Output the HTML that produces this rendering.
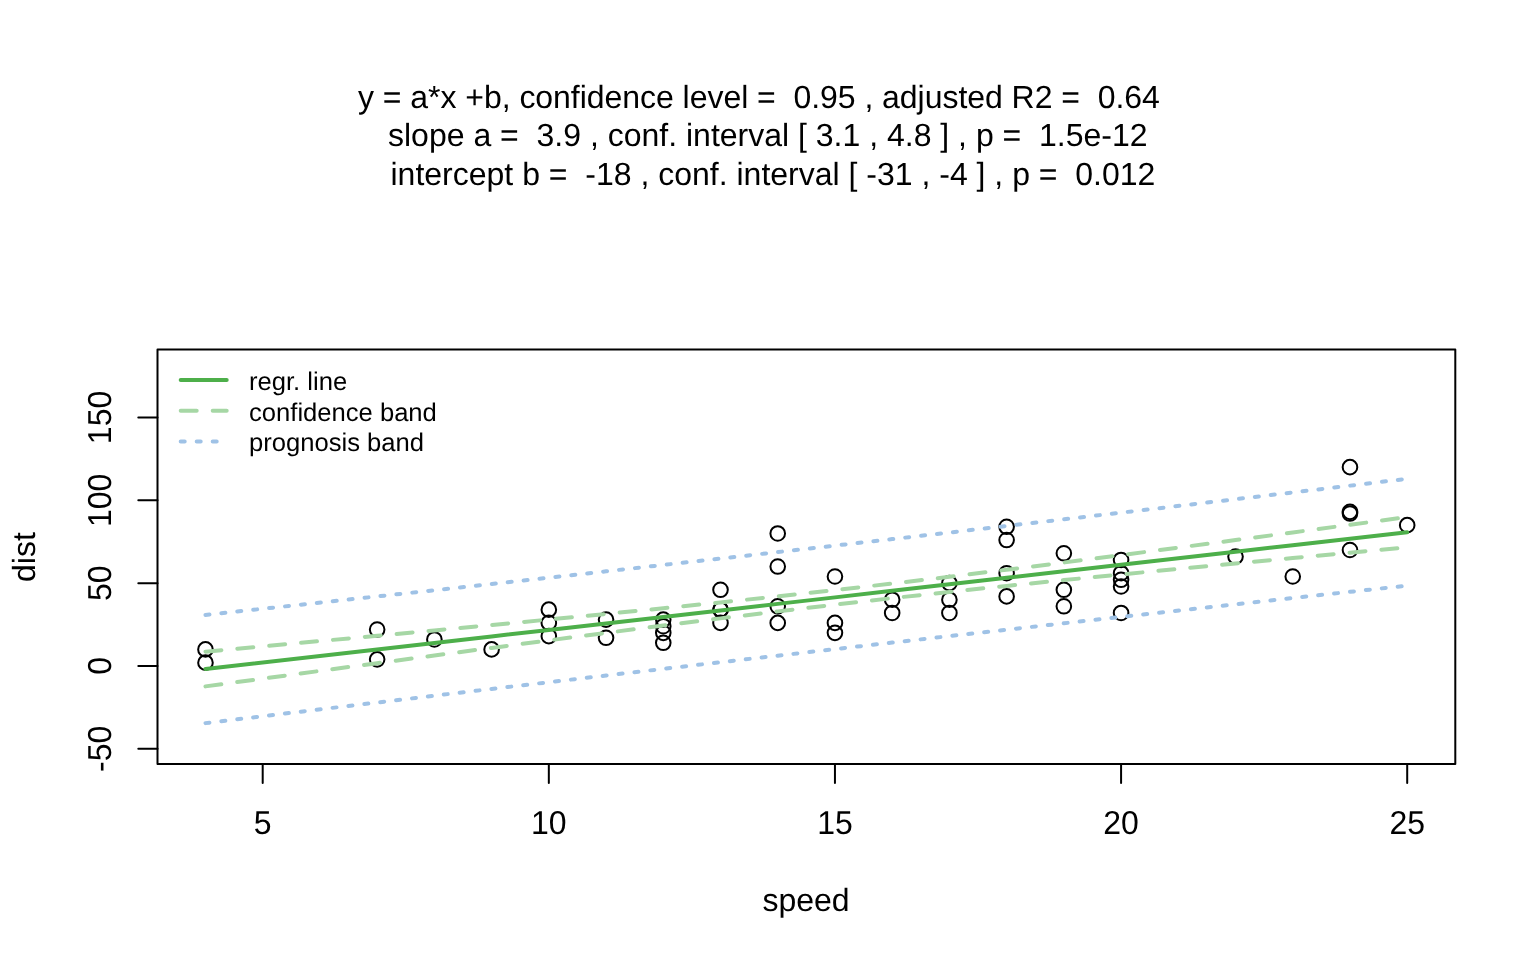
<!DOCTYPE html>
<html><head><meta charset="utf-8"><style>
html,body{margin:0;padding:0;background:#fff;}
svg{display:block;will-change:transform;}
text{font-family:"Liberation Sans",sans-serif;fill:#000;text-rendering:geometricPrecision;}
</style></head><body>
<svg width="1536" height="960" viewBox="0 0 1536 960">
<rect x="0" y="0" width="1536" height="960" fill="#fff"/>
<g font-size="32">
<text x="358" y="108.2" textLength="801.8" lengthAdjust="spacing" xml:space="preserve">y = a*x +b, confidence level =  0.95 , adjusted R2 =  0.64</text>
<text x="388" y="146.2" xml:space="preserve">slope a =  3.9 , conf. interval [ 3.1 , 4.8 ] , p =  1.5e-12</text>
<text x="390.5" y="185.2" xml:space="preserve">intercept b =  -18 , conf. interval [ -31 , -4 ] , p =  0.012</text>
</g>
<g fill="none" stroke="#000" stroke-width="2">
<circle cx="205.47" cy="662.65" r="7.3"/>
<circle cx="205.47" cy="649.40" r="7.3"/>
<circle cx="377.15" cy="659.34" r="7.3"/>
<circle cx="377.15" cy="629.52" r="7.3"/>
<circle cx="434.38" cy="639.46" r="7.3"/>
<circle cx="491.60" cy="649.40" r="7.3"/>
<circle cx="548.83" cy="636.14" r="7.3"/>
<circle cx="548.83" cy="622.89" r="7.3"/>
<circle cx="548.83" cy="609.64" r="7.3"/>
<circle cx="606.05" cy="637.80" r="7.3"/>
<circle cx="606.05" cy="619.58" r="7.3"/>
<circle cx="663.27" cy="642.77" r="7.3"/>
<circle cx="663.27" cy="632.83" r="7.3"/>
<circle cx="663.27" cy="626.20" r="7.3"/>
<circle cx="663.27" cy="619.58" r="7.3"/>
<circle cx="720.50" cy="622.89" r="7.3"/>
<circle cx="720.50" cy="609.64" r="7.3"/>
<circle cx="720.50" cy="609.64" r="7.3"/>
<circle cx="720.50" cy="589.76" r="7.3"/>
<circle cx="777.72" cy="622.89" r="7.3"/>
<circle cx="777.72" cy="606.32" r="7.3"/>
<circle cx="777.72" cy="566.56" r="7.3"/>
<circle cx="777.72" cy="533.43" r="7.3"/>
<circle cx="834.95" cy="632.83" r="7.3"/>
<circle cx="834.95" cy="622.89" r="7.3"/>
<circle cx="834.95" cy="576.50" r="7.3"/>
<circle cx="892.17" cy="612.95" r="7.3"/>
<circle cx="892.17" cy="599.70" r="7.3"/>
<circle cx="949.40" cy="612.95" r="7.3"/>
<circle cx="949.40" cy="599.70" r="7.3"/>
<circle cx="949.40" cy="583.13" r="7.3"/>
<circle cx="1006.62" cy="596.38" r="7.3"/>
<circle cx="1006.62" cy="573.19" r="7.3"/>
<circle cx="1006.62" cy="540.06" r="7.3"/>
<circle cx="1006.62" cy="526.80" r="7.3"/>
<circle cx="1063.85" cy="606.32" r="7.3"/>
<circle cx="1063.85" cy="589.76" r="7.3"/>
<circle cx="1063.85" cy="553.31" r="7.3"/>
<circle cx="1121.08" cy="612.95" r="7.3"/>
<circle cx="1121.08" cy="586.44" r="7.3"/>
<circle cx="1121.08" cy="579.82" r="7.3"/>
<circle cx="1121.08" cy="573.19" r="7.3"/>
<circle cx="1121.08" cy="559.94" r="7.3"/>
<circle cx="1235.53" cy="556.62" r="7.3"/>
<circle cx="1292.75" cy="576.50" r="7.3"/>
<circle cx="1349.98" cy="550.00" r="7.3"/>
<circle cx="1349.98" cy="513.55" r="7.3"/>
<circle cx="1349.98" cy="511.89" r="7.3"/>
<circle cx="1349.98" cy="467.16" r="7.3"/>
<circle cx="1407.20" cy="525.15" r="7.3"/>
</g>
<g fill="none" stroke-width="4" stroke-linecap="round" stroke-linejoin="round">
<polyline stroke="#a6d7a5" stroke-dasharray="16 16" points="205.47,686.39 205.47,686.39 377.15,663.18 377.15,663.18 434.38,655.52 491.60,647.90 548.83,640.35 548.83,640.35 548.83,640.35 606.05,632.89 606.05,632.89 663.27,625.55 663.27,625.55 663.27,625.55 663.27,625.55 720.50,618.37 720.50,618.37 720.50,618.37 720.50,618.37 777.72,611.38 777.72,611.38 777.72,611.38 777.72,611.38 834.95,604.63 834.95,604.63 834.95,604.63 892.17,598.14 892.17,598.14 949.40,591.91 949.40,591.91 949.40,591.91 1006.62,585.91 1006.62,585.91 1006.62,585.91 1006.62,585.91 1063.85,580.10 1063.85,580.10 1063.85,580.10 1121.08,574.44 1121.08,574.44 1121.08,574.44 1121.08,574.44 1121.08,574.44 1235.53,563.42 1292.75,558.02 1349.98,552.67 1349.98,552.67 1349.98,552.67 1349.98,552.67 1407.20,547.35"/>
<polyline stroke="#a6d7a5" stroke-dasharray="16 16" points="205.47,651.67 205.47,651.67 377.15,635.79 377.15,635.79 434.38,630.42 491.60,625.01 548.83,619.53 548.83,619.53 548.83,619.53 606.05,613.96 606.05,613.96 663.27,608.27 663.27,608.27 663.27,608.27 663.27,608.27 720.50,602.43 720.50,602.43 720.50,602.43 720.50,602.43 777.72,596.38 777.72,596.38 777.72,596.38 777.72,596.38 834.95,590.10 834.95,590.10 834.95,590.10 892.17,583.56 892.17,583.56 949.40,576.76 949.40,576.76 949.40,576.76 1006.62,569.73 1006.62,569.73 1006.62,569.73 1006.62,569.73 1063.85,562.51 1063.85,562.51 1063.85,562.51 1121.08,555.15 1121.08,555.15 1121.08,555.15 1121.08,555.15 1121.08,555.15 1235.53,540.10 1292.75,532.47 1349.98,524.80 1349.98,524.80 1349.98,524.80 1349.98,524.80 1407.20,517.08"/>
<polyline stroke="#9fc2e6" stroke-dasharray="4 12" points="205.47,723.12 205.47,723.12 377.15,702.51 377.15,702.51 434.38,695.71 491.60,688.95 548.83,682.22 548.83,682.22 548.83,682.22 606.05,675.52 606.05,675.52 663.27,668.86 663.27,668.86 663.27,668.86 663.27,668.86 720.50,662.24 720.50,662.24 720.50,662.24 720.50,662.24 777.72,655.66 777.72,655.66 777.72,655.66 777.72,655.66 834.95,649.11 834.95,649.11 834.95,649.11 892.17,642.60 892.17,642.60 949.40,636.12 949.40,636.12 949.40,636.12 1006.62,629.69 1006.62,629.69 1006.62,629.69 1006.62,629.69 1063.85,623.29 1063.85,623.29 1063.85,623.29 1121.08,616.92 1121.08,616.92 1121.08,616.92 1121.08,616.92 1121.08,616.92 1235.53,604.30 1292.75,598.05 1349.98,591.82 1349.98,591.82 1349.98,591.82 1349.98,591.82 1407.20,585.64"/>
<polyline stroke="#9fc2e6" stroke-dasharray="4 12" points="205.47,614.94 205.47,614.94 377.15,596.45 377.15,596.45 434.38,590.23 491.60,583.96 548.83,577.66 548.83,577.66 548.83,577.66 606.05,571.33 606.05,571.33 663.27,564.96 663.27,564.96 663.27,564.96 663.27,564.96 720.50,558.55 720.50,558.55 720.50,558.55 720.50,558.55 777.72,552.11 777.72,552.11 777.72,552.11 777.72,552.11 834.95,545.62 834.95,545.62 834.95,545.62 892.17,539.11 892.17,539.11 949.40,532.55 949.40,532.55 949.40,532.55 1006.62,525.96 1006.62,525.96 1006.62,525.96 1006.62,525.96 1063.85,519.33 1063.85,519.33 1063.85,519.33 1121.08,512.66 1121.08,512.66 1121.08,512.66 1121.08,512.66 1121.08,512.66 1235.53,499.22 1292.75,492.45 1349.98,485.64 1349.98,485.64 1349.98,485.64 1349.98,485.64 1407.20,478.80"/>
<polyline stroke="#4daf4a" points="205.47,669.03 205.47,669.03 377.15,649.48 377.15,649.48 434.38,642.97 491.60,636.45 548.83,629.94 548.83,629.94 548.83,629.94 606.05,623.43 606.05,623.43 663.27,616.91 663.27,616.91 663.27,616.91 663.27,616.91 720.50,610.40 720.50,610.40 720.50,610.40 720.50,610.40 777.72,603.88 777.72,603.88 777.72,603.88 777.72,603.88 834.95,597.37 834.95,597.37 834.95,597.37 892.17,590.85 892.17,590.85 949.40,584.34 949.40,584.34 949.40,584.34 1006.62,577.82 1006.62,577.82 1006.62,577.82 1006.62,577.82 1063.85,571.31 1063.85,571.31 1063.85,571.31 1121.08,564.79 1121.08,564.79 1121.08,564.79 1121.08,564.79 1121.08,564.79 1235.53,551.76 1292.75,545.25 1349.98,538.73 1349.98,538.73 1349.98,538.73 1349.98,538.73 1407.20,532.22"/>
</g>
<g fill="none" stroke="#000" stroke-width="2" stroke-linecap="round">
<rect x="157.5" y="349.6" width="1297.80" height="414.40" stroke-linejoin="round"/>
<line x1="262.70" y1="764.0" x2="262.70" y2="783"/>
<line x1="548.83" y1="764.0" x2="548.83" y2="783"/>
<line x1="834.95" y1="764.0" x2="834.95" y2="783"/>
<line x1="1121.08" y1="764.0" x2="1121.08" y2="783"/>
<line x1="1407.20" y1="764.0" x2="1407.20" y2="783"/>
<line x1="138.3" y1="748.80" x2="157.5" y2="748.80"/>
<line x1="138.3" y1="665.96" x2="157.5" y2="665.96"/>
<line x1="138.3" y1="583.13" x2="157.5" y2="583.13"/>
<line x1="138.3" y1="500.29" x2="157.5" y2="500.29"/>
<line x1="138.3" y1="417.46" x2="157.5" y2="417.46"/>
</g>
<g font-size="32" text-anchor="middle">
<text transform="translate(262.70,833.8) scale(1,1.035)">5</text>
<text transform="translate(548.83,833.8) scale(1,1.035)">10</text>
<text transform="translate(834.95,833.8) scale(1,1.035)">15</text>
<text transform="translate(1121.08,833.8) scale(1,1.035)">20</text>
<text transform="translate(1407.20,833.8) scale(1,1.035)">25</text>
<text transform="translate(111,748.80) rotate(-90) scale(1,1.035)">-50</text>
<text transform="translate(111,665.96) rotate(-90) scale(1,1.035)">0</text>
<text transform="translate(111,583.13) rotate(-90) scale(1,1.035)">50</text>
<text transform="translate(111,500.29) rotate(-90) scale(1,1.035)">100</text>
<text transform="translate(111,417.46) rotate(-90) scale(1,1.035)">150</text>
<text x="806" y="910.8">speed</text>
<text transform="translate(34.9,557.1) rotate(-90)">dist</text>
</g>
<g fill="none" stroke-width="4" stroke-linecap="round">
<line x1="180.7" y1="380.1" x2="226.7" y2="380.1" stroke="#4daf4a"/>
<line x1="180.7" y1="410.75" x2="226.7" y2="410.75" stroke="#a6d7a5" stroke-dasharray="16 16"/>
<line x1="180.7" y1="441.4" x2="226.7" y2="441.4" stroke="#9fc2e6" stroke-dasharray="4 12"/>
</g>
<g font-size="25.6">
<text x="249" y="389.8">regr. line</text>
<text x="249" y="420.6">confidence band</text>
<text x="249" y="451.3">prognosis band</text>
</g>
</svg></body></html>
